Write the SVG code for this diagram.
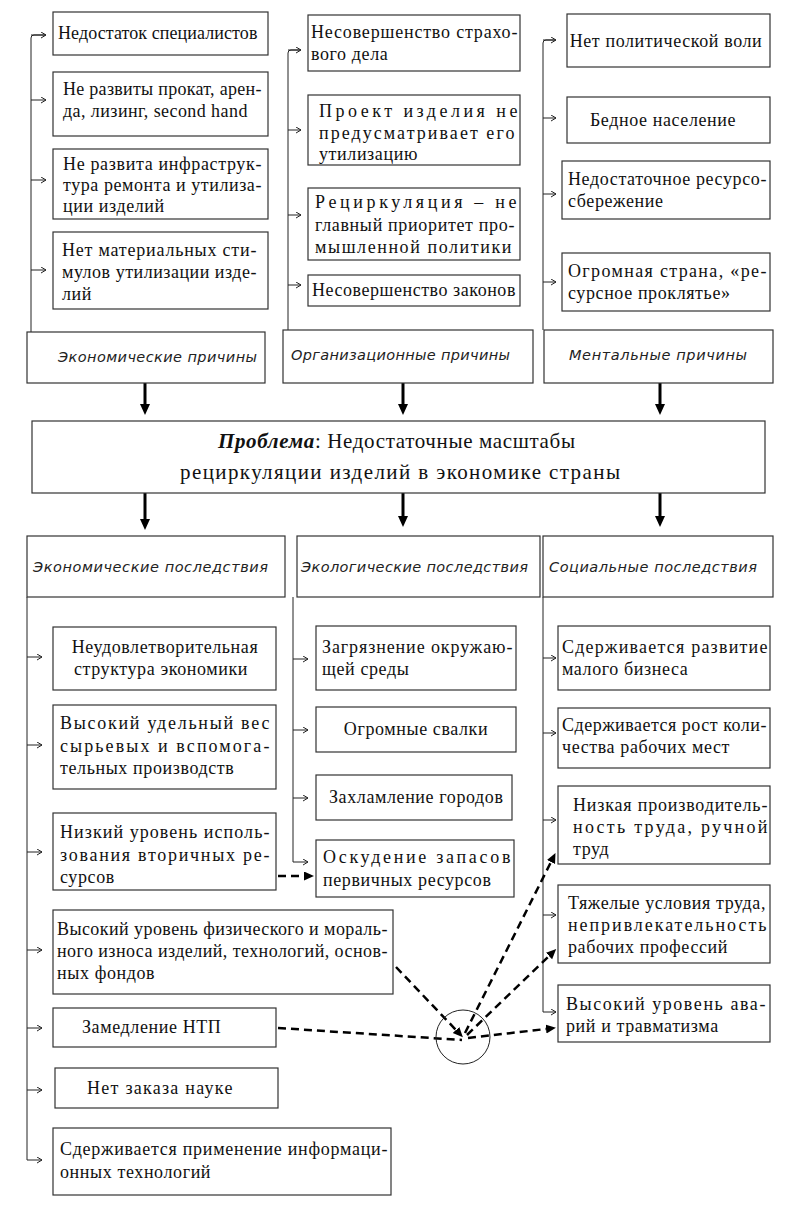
<svg xmlns="http://www.w3.org/2000/svg" width="791" height="1213" viewBox="0 0 791 1213">
<style>
.box{fill:#fff;stroke:#333;stroke-width:1.2}
.t{font-family:"Liberation Serif",serif;font-size:18px;letter-spacing:0.6px;fill:#111}
.c{text-anchor:middle}
.h{font-family:"DejaVu Sans",sans-serif;font-style:italic;font-weight:200;font-size:14.5px;fill:#222}
.p{font-family:"Liberation Serif",serif;font-size:21px;fill:#111}
.ln{stroke:#222;stroke-width:1;fill:none}
.sa{stroke:#222;stroke-width:1;fill:none;marker-end:url(#sm)}
.thick{stroke:#000;stroke-width:3;fill:none;marker-end:url(#tm)}
.dash{stroke:#000;stroke-width:2.5;stroke-dasharray:8 5;fill:none}
.da{marker-end:url(#dm)}
</style>
<defs>
<marker id="sm" markerUnits="userSpaceOnUse" markerWidth="8" markerHeight="8" refX="5" refY="3.5" orient="auto"><path d="M0,0.5 L5,3.5 L0,6.5" fill="none" stroke="#222" stroke-width="1"/></marker>
<marker id="tm" markerUnits="userSpaceOnUse" markerWidth="12" markerHeight="12" refX="0" refY="5" orient="auto"><path d="M0,0 L11,5 L0,10 Z" fill="#000"/></marker>
<marker id="dm" markerUnits="userSpaceOnUse" markerWidth="12" markerHeight="12" refX="0" refY="4.5" orient="auto"><path d="M0,0 L10,4.5 L0,9 Z" fill="#000"/></marker>
</defs>

<g id="connectors">
<path class="ln" d="M31,332 V38 Q31,35 34,35 H45"/>
<path class="sa" d="M31,35 H46"/>
<path class="sa" d="M31,100 H46"/>
<path class="sa" d="M31,180 H46"/>
<path class="sa" d="M31,270 H46"/>
<path class="ln" d="M288,330 V53 Q288,50 291,50 H300"/>
<path class="sa" d="M288,50 H301"/>
<path class="sa" d="M288,130 H301"/>
<path class="sa" d="M288,215 H301"/>
<path class="sa" d="M288,285 H301"/>
<path class="ln" d="M543,330 V43 Q543,40 546,40 H555"/>
<path class="sa" d="M543,40 H556"/>
<path class="sa" d="M543,118 H556"/>
<path class="sa" d="M543,194 H556"/>
<path class="sa" d="M543,282 H556"/>
<path class="thick" d="M145,383 V404"/>
<path class="thick" d="M403,383 V404"/>
<path class="thick" d="M660,383 V404"/>
<path class="thick" d="M145,493 V519"/>
<path class="thick" d="M403,493 V516"/>
<path class="thick" d="M660,493 V516"/>
<path class="ln" d="M27,597 V1160"/>
<path class="sa" d="M27,657 H42"/>
<path class="sa" d="M27,745 H42"/>
<path class="sa" d="M27,852 H42"/>
<path class="sa" d="M27,950 H42"/>
<path class="sa" d="M27,1028 H42"/>
<path class="sa" d="M27,1090 H42"/>
<path class="sa" d="M27,1160 H42"/>
<path class="ln" d="M293,597 V862"/>
<path class="sa" d="M293,659 H308"/>
<path class="sa" d="M293,730 H308"/>
<path class="sa" d="M293,798 H308"/>
<path class="sa" d="M293,862 H308"/>
<path class="ln" d="M543,597 V1012"/>
<path class="sa" d="M543,658 H556"/>
<path class="sa" d="M543,733 H556"/>
<path class="sa" d="M543,820 H556"/>
<path class="sa" d="M543,915 H556"/>
<path class="sa" d="M543,1012 H556"/>
<path class="dash da" d="M278,876 H304"/>
<path class="dash da" d="M396,967 L456,1030"/>
<path class="dash" d="M278,1028 L462,1040"/>
<path class="dash da" d="M465,1033 L551,862"/>
<path class="dash da" d="M467,1035 L549,956"/>
<path class="dash da" d="M468,1038 L546,1029"/>
<circle cx="463" cy="1037" r="27" fill="none" stroke="#222" stroke-width="1"/>
</g>

<g id="n-specialists"><rect class="box" x="53" y="12" width="215" height="43"/><text class="t" x="58" y="39" textLength="200">Недостаток специалистов</text></g>
<g id="n-rent"><rect class="box" x="53" y="72" width="215" height="64"/><text class="t" x="63" y="95" textLength="199">Не развиты прокат, арен-</text><text class="t" x="63" y="117" textLength="185">да, лизинг, second hand</text></g>
<g id="n-infra"><rect class="box" x="53" y="149" width="215" height="70"/><text class="t" x="63" y="170" textLength="199">Не развита инфраструк-</text><text class="t" x="63" y="191" textLength="199">тура ремонта и утилиза-</text><text class="t" x="63" y="212">ции изделий</text></g>
<g id="n-stimuli"><rect class="box" x="53" y="232" width="215" height="77"/><text class="t" x="62" y="256" textLength="195">Нет материальных сти-</text><text class="t" x="62" y="278" textLength="195">мулов утилизации изде-</text><text class="t" x="62" y="300">лий</text></g>

<g id="n-insurance"><rect class="box" x="308" y="15" width="212" height="56"/><text class="t" x="311" y="38" textLength="207">Несовершенство страхо-</text><text class="t" x="311" y="60">вого дела</text></g>
<g id="n-project"><rect class="box" x="308" y="95" width="212" height="70"/><text class="t" x="319" y="117" textLength="199">Проект изделия не</text><text class="t" x="319" y="139" textLength="196">предусматривает его</text><text class="t" x="319" y="160">утилизацию</text></g>
<g id="n-priority"><rect class="box" x="308" y="188" width="212" height="72"/><text class="t" x="315" y="208" textLength="202">Рециркуляция – не</text><text class="t" x="315" y="231" textLength="200">главный приоритет про-</text><text class="t" x="315" y="253" textLength="197">мышленной политики</text></g>
<g id="n-laws"><rect class="box" x="308" y="275" width="212" height="31"/><text class="t" x="312" y="296" textLength="204">Несовершенство законов</text></g>

<g id="n-will"><rect class="box" x="567" y="14" width="203" height="53"/><text class="t c" x="666" y="47">Нет политической воли</text></g>
<g id="n-poor"><rect class="box" x="567" y="97" width="203" height="46"/><text class="t c" x="663" y="126">Бедное население</text></g>
<g id="n-saving"><rect class="box" x="562" y="161" width="208" height="58"/><text class="t" x="568" y="185" textLength="199">Недостаточное ресурсо-</text><text class="t" x="568" y="207">сбережение</text></g>
<g id="n-curse"><rect class="box" x="562" y="253" width="208" height="58"/><text class="t" x="568" y="277" textLength="199">Огромная страна, «ре-</text><text class="t" x="568" y="299">сурсное проклятье»</text></g>

<g id="h-econ-causes"><rect class="box" x="27" y="332" width="238" height="51"/><text class="h" x="58" y="362" textLength="199">Экономические причины</text></g>
<g id="h-org-causes"><rect class="box" x="283" y="330" width="250" height="53"/><text class="h" x="291" y="360" textLength="219">Организационные причины</text></g>
<g id="h-mental-causes"><rect class="box" x="544" y="330" width="229" height="53"/><text class="h" x="569" y="360" textLength="178">Ментальные причины</text></g>

<g id="problem"><rect class="box" x="32" y="421" width="733" height="72"/>
<text class="p" x="218" y="448" textLength="357"><tspan font-weight="bold" font-style="italic">Проблема</tspan>: Недостаточные масштабы</text>
<text class="p" x="180" y="479" textLength="440">рециркуляции изделий в  экономике страны</text></g>

<g id="h-econ-cons"><rect class="box" x="27" y="536" width="258" height="61"/><text class="h" x="33" y="572" textLength="235">Экономические последствия</text></g>
<g id="h-eco-cons"><rect class="box" x="297" y="536" width="243" height="61"/><text class="h" x="301" y="572" textLength="227">Экологические последствия</text></g>
<g id="h-soc-cons"><rect class="box" x="543" y="536" width="230" height="61"/><text class="h" x="549" y="572" textLength="208">Социальные последствия</text></g>

<g id="n-structure"><rect class="box" x="53" y="627" width="223" height="63"/><text class="t c" x="165" y="653">Неудовлетворительная</text><text class="t c" x="161" y="675">структура экономики</text></g>
<g id="n-raw"><rect class="box" x="53" y="705" width="223" height="84"/><text class="t" x="60" y="729" textLength="210">Высокий удельный вес</text><text class="t" x="60" y="752" textLength="210">сырьевых и вспомога-</text><text class="t" x="60" y="774">тельных производств</text></g>
<g id="n-secondary"><rect class="box" x="53" y="813" width="223" height="77"/><text class="t" x="60" y="838" textLength="210">Низкий уровень исполь-</text><text class="t" x="60" y="861" textLength="210">зования вторичных ре-</text><text class="t" x="60" y="883">сурсов</text></g>
<g id="n-wear"><rect class="box" x="53" y="910" width="340" height="84"/><text class="t" x="57" y="935" textLength="331">Высокий уровень физического и  мораль-</text><text class="t" x="57" y="957" textLength="331">ного износа изделий, технологий, основ-</text><text class="t" x="57" y="979">ных фондов</text></g>
<g id="n-ntp"><rect class="box" x="53" y="1008" width="223" height="39"/><text class="t" x="82" y="1033">Замедление НТП</text></g>
<g id="n-science"><rect class="box" x="55" y="1068" width="223" height="40"/><text class="t" x="87" y="1094" textLength="146">Нет заказа науке</text></g>
<g id="n-it"><rect class="box" x="53" y="1128" width="338" height="67"/><text class="t" x="60" y="1155" textLength="328">Сдерживается применение информаци-</text><text class="t" x="60" y="1178">онных технологий</text></g>

<g id="n-pollution"><rect class="box" x="316" y="626" width="200" height="64"/><text class="t" x="322" y="653" textLength="191">Загрязнение окружаю-</text><text class="t" x="322" y="675">щей среды</text></g>
<g id="n-dumps"><rect class="box" x="316" y="707" width="200" height="45"/><text class="t c" x="416" y="735">Огромные свалки</text></g>
<g id="n-cities"><rect class="box" x="316" y="775" width="196" height="45"/><text class="t" x="329" y="803">Захламление городов</text></g>
<g id="n-depletion"><rect class="box" x="316" y="840" width="198" height="57"/><text class="t" x="323" y="863" textLength="188">Оскудение   запасов</text><text class="t" x="323" y="886">первичных ресурсов</text></g>

<g id="n-business"><rect class="box" x="558" y="626" width="212" height="64"/><text class="t" x="562" y="653" textLength="206">Сдерживается развитие</text><text class="t" x="562" y="675">малого бизнеса</text></g>
<g id="n-jobs"><rect class="box" x="558" y="708" width="212" height="60"/><text class="t" x="562" y="731" textLength="205">Сдерживается рост коли-</text><text class="t" x="562" y="753">чества рабочих мест</text></g>
<g id="n-productivity"><rect class="box" x="558" y="786" width="212" height="78"/><text class="t" x="573" y="811" textLength="195">Низкая производитель-</text><text class="t" x="573" y="833" textLength="195">ность труда, ручной</text><text class="t" x="573" y="855">труд</text></g>
<g id="n-conditions"><rect class="box" x="558" y="885" width="212" height="78"/><text class="t" x="568" y="909" textLength="198">Тяжелые условия труда,</text><text class="t" x="568" y="931" textLength="199">непривлекательность</text><text class="t" x="568" y="953">рабочих профессий</text></g>
<g id="n-accidents"><rect class="box" x="558" y="985" width="212" height="57"/><text class="t" x="566" y="1010" textLength="200">Высокий уровень ава-</text><text class="t" x="566" y="1032">рий и  травматизма</text></g>
</svg>
